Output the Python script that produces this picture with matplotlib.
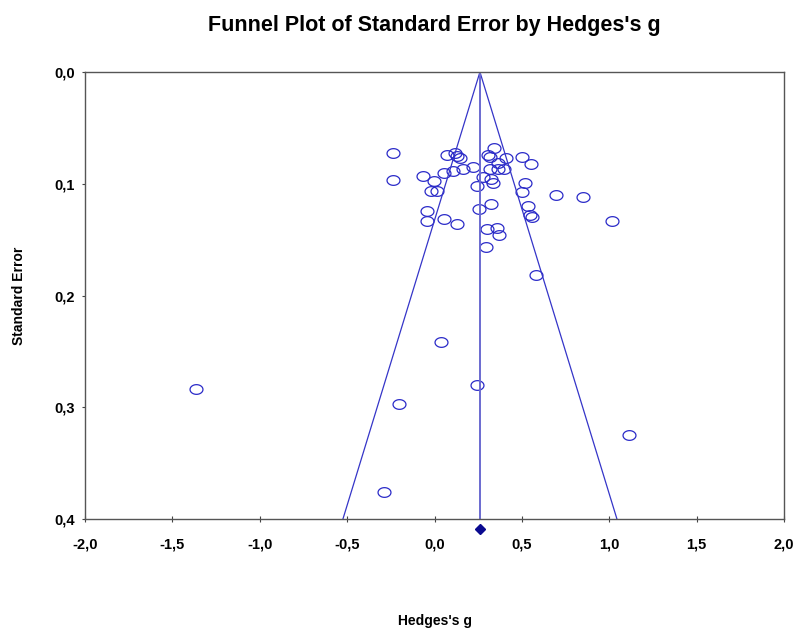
#!/usr/bin/python3
import numpy as np
import matplotlib
matplotlib.use("Agg")
import matplotlib.pyplot as plt
from matplotlib.path import Path
from matplotlib.ticker import FuncFormatter

# study effects (Hedges's g) and their standard errors
hedges_g = [-0.239, -0.235, 0.070, 0.117, 0.127, 0.146, 0.340, 0.307, 0.317, 0.409,
            0.498, 0.551, -0.064, -0.003, 0.054, 0.107, 0.161, 0.218, 0.317, 0.361,
            0.361, 0.399, 0.275, 0.321, 0.333, 0.241, -0.020, 0.013, 0.517, 0.498,
            0.698, 0.850, 1.013, -0.045, -0.045, 0.054, 0.127, 0.254, 0.321, 0.533,
            0.546, 0.559, 0.302, 0.355, 0.369, 0.294, 0.580, 0.037, -1.367, 0.245,
            -0.201, 1.113, -0.287]
std_err = [0.0722, 0.0966, 0.0743, 0.0728, 0.0752, 0.0767, 0.0683, 0.0743, 0.0758, 0.0767,
           0.0758, 0.0826, 0.0931, 0.0973, 0.0901, 0.0883, 0.0871, 0.0847, 0.0871, 0.0817,
           0.0871, 0.0868, 0.0937, 0.0960, 0.0991, 0.1020, 0.1062, 0.1062, 0.0996, 0.1077,
           0.1101, 0.1116, 0.1333, 0.1247, 0.1333, 0.1315, 0.1360, 0.1229, 0.1181, 0.1199,
           0.1280, 0.1295, 0.1405, 0.1399, 0.1459, 0.1563, 0.1817, 0.2416, 0.2837, 0.2801,
           0.2968, 0.3248, 0.3758]
pooled_g = 0.26
se_max = 0.4
x_ticks = [-2.0, -1.5, -1.0, -0.5, 0.0, 0.5, 1.0, 1.5, 2.0]
y_ticks = [0.0, 0.1, 0.2, 0.3, 0.4]

plt.rcParams["font.family"] = ["Liberation Sans", "DejaVu Sans"]
plt.rcParams["font.weight"] = "bold"

fig = plt.figure(figsize=(7.95, 6.31), dpi=100)
ax = fig.add_axes([85 / 795, 1 - 519 / 631, 699 / 795, 447 / 631])

# flattened circle marker
t = np.linspace(0, 2 * np.pi, 60)
ellipse = Path(np.column_stack([np.cos(t), 0.75 * np.sin(t)]), closed=True)

ax.plot(hedges_g, std_err, linestyle="none", marker=ellipse, markersize=9.3,
        markerfacecolor="none", markeredgecolor="#2a2ac8", markeredgewidth=0.9)

# funnel (95% limits) and pooled line
ax.plot([pooled_g - 1.96 * se_max, pooled_g, pooled_g + 1.96 * se_max],
        [se_max, 0, se_max], color="#3535c8", lw=0.9)
ax.plot([pooled_g, pooled_g], [0, se_max], color="#6a6ad0", lw=1.4)
ax.plot([pooled_g], [0.409], marker="D", markersize=5, color="#0a0a90",
        clip_on=False)

ax.set_xlim(-2, 2)
ax.set_ylim(0.4, 0.0)
ax.set_xticks(x_ticks)
ax.set_yticks(y_ticks)
comma = FuncFormatter(lambda v, p: ("%.1f" % v).replace(".", ","))
ax.xaxis.set_major_formatter(comma)
ax.yaxis.set_major_formatter(comma)
ax.tick_params(axis="x", direction="inout", length=5, pad=11, labelsize=10.5, color="#444444")
ax.tick_params(axis="y", direction="out", length=2.5, pad=5, labelsize=10.5, color="#444444")
for s in ax.spines.values():
    s.set_color("#555555")
    s.set_linewidth(1.0)

ax.set_xlabel("Hedges's g", fontsize=10, fontweight="bold", labelpad=45)
ax.set_ylabel("Standard Error", fontsize=10, fontweight="bold", labelpad=20)
fig.text(434 / 795, 1 - 26 / 631, "Funnel Plot of Standard Error by Hedges's g",
         ha="center", va="center", fontsize=15.5, fontweight="bold")

plt.savefig("out.png", dpi=100)
